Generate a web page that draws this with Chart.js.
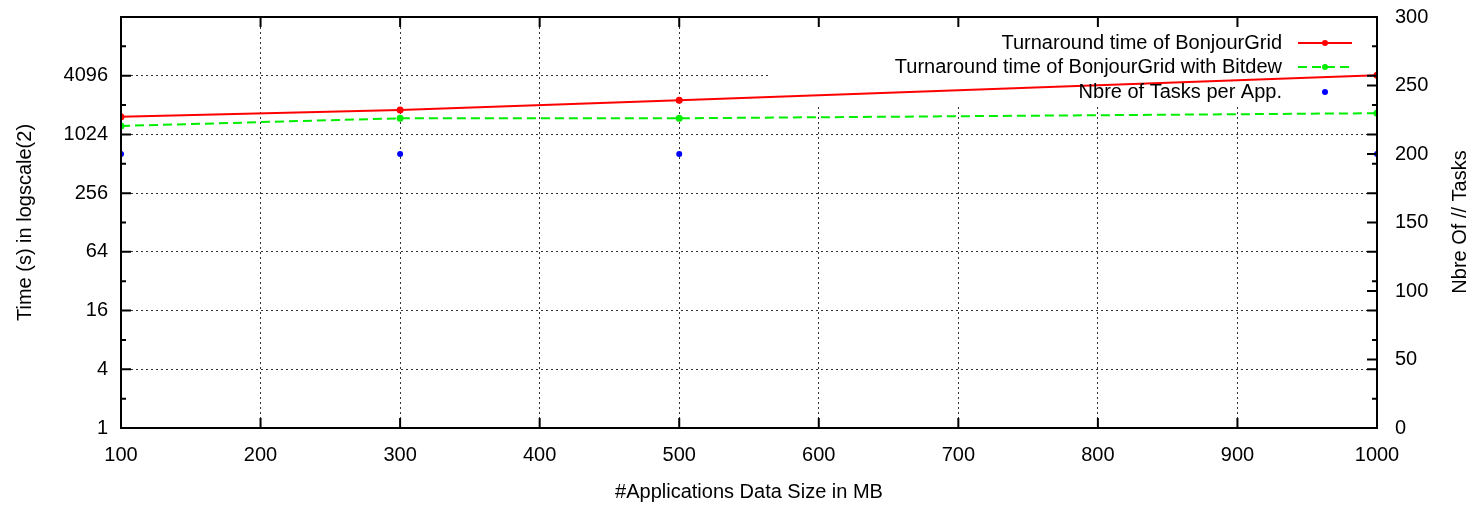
<!DOCTYPE html>
<html>
<head>
<meta charset="utf-8">
<script src="https://cdn.jsdelivr.net/npm/chart.js@4"></script>
<style>
  html, body { margin: 0; padding: 0; background: #fff; }
  #wrap { width: 1473px; height: 507px; }
</style>
</head>
<body>
<div id="wrap"><canvas id="lineChart"></canvas></div>
<script>
// data
const dataSizes = [100, 300, 500, 1000];
const bonjourGrid = [1550, 1820, 2300, 4150];
const bonjourGridBitdew = [1250, 1500, 1500, 1690];
const tasksPerApp = [200, 200, 200, 200];

const xTicks = [100, 200, 300, 400, 500, 600, 700, 800, 900, 1000];
const timeTicks = [1, 2, 4, 8, 16, 32, 64, 128, 256, 512, 1024, 2048, 4096, 8192, 16384];
const timeLabels = [1, 4, 16, 64, 256, 1024, 4096];
const taskTicks = [0, 50, 100, 150, 200, 250, 300];

const FONT = "'Liberation Sans', Arial, sans-serif";
Chart.defaults.font.family = FONT;
Chart.defaults.font.size = 20;
Chart.defaults.color = "#000";

const toPoints = (ys) => dataSizes.map((x, i) => ({ x, y: ys[i] }));
const gridColor = "#333";

// legend box + frame + inward tick marks, like gnuplot
const gnuplotLook = {
  id: "gnuplotLook",
  beforeDatasetsDraw(chart) {
    const { ctx, chartArea } = chart;
    // the key area hides the grid behind it
    ctx.save();
    ctx.fillStyle = "#fff";
    ctx.fillRect(769, chartArea.top + 1, chartArea.right - 769 - 1, 104 - chartArea.top);
    ctx.restore();
  },
  afterDatasetsDraw(chart) {
    const { ctx, chartArea: a, scales } = chart;
    ctx.save();
    ctx.strokeStyle = "#000";
    ctx.lineWidth = 2;
    ctx.setLineDash([]);
    ctx.strokeRect(a.left, a.top, a.right - a.left, a.bottom - a.top);

    ctx.beginPath();
    xTicks.forEach((v) => {
      const px = scales.x.getPixelForValue(v);
      ctx.moveTo(px, a.bottom); ctx.lineTo(px, a.bottom - 10);
      ctx.moveTo(px, a.top); ctx.lineTo(px, a.top + 10);
    });
    timeTicks.forEach((v) => {
      const py = scales.y.getPixelForValue(v);
      const len = timeLabels.includes(v) ? 10 : 5;
      ctx.moveTo(a.left, py); ctx.lineTo(a.left + len, py);
      ctx.moveTo(a.right, py); ctx.lineTo(a.right - len, py);
    });
    taskTicks.forEach((v) => {
      const py = scales.y2.getPixelForValue(v);
      ctx.moveTo(a.right, py); ctx.lineTo(a.right - 10, py);
    });
    ctx.stroke();

    // key
    const rows = [43, 67, 92];
    ctx.font = "20px " + FONT;
    ctx.textAlign = "right";
    ctx.textBaseline = "middle";
    ctx.fillStyle = "#000";
    chart.data.datasets.forEach((ds, i) => {
      const y = rows[i];
      ctx.fillText(ds.label, 1282, y);
      if (ds.showLine !== false) {
        ctx.strokeStyle = ds.borderColor;
        ctx.lineWidth = 2;
        ctx.setLineDash(ds.borderDash || []);
        ctx.beginPath();
        ctx.moveTo(1298, y);
        ctx.lineTo(1352, y);
        ctx.stroke();
        ctx.setLineDash([]);
      }
      ctx.fillStyle = ds.pointBackgroundColor;
      ctx.beginPath();
      ctx.arc(1325, y, 3, 0, Math.PI * 2);
      ctx.fill();
      ctx.fillStyle = "#000";
    });

    // right axis title, reading bottom to top
    ctx.translate(1460, 222);
    ctx.rotate(-Math.PI / 2);
    ctx.textAlign = "center";
    ctx.fillText("Nbre Of // Tasks", 0, 0);
    ctx.restore();
  },
};

const noVerticalPadding = (scale, width) => {
  scale.width = width;
  scale.paddingTop = 0;
  scale.paddingBottom = 0;
};

const container = document.getElementById("lineChart");

new Chart(container, {
  type: "line",
  data: {
    datasets: [
      {
        label: "Turnaround time of BonjourGrid",
        data: toPoints(bonjourGrid),
        yAxisID: "y",
        borderColor: "#ff0000",
        backgroundColor: "#ff0000",
        pointBackgroundColor: "#ff0000",
        pointBorderWidth: 0,
        pointRadius: 3.5,
        borderWidth: 2,
        tension: 0,
      },
      {
        label: "Turnaround time of BonjourGrid with Bitdew",
        data: toPoints(bonjourGridBitdew),
        yAxisID: "y",
        borderColor: "#00ee00",
        backgroundColor: "#00ee00",
        pointBackgroundColor: "#00ee00",
        pointBorderWidth: 0,
        pointRadius: 3.5,
        borderWidth: 2,
        borderDash: [9, 5],
        tension: 0,
      },
      {
        label: "Nbre of Tasks per App.",
        data: toPoints(tasksPerApp),
        yAxisID: "y2",
        showLine: false,
        borderColor: "#0000ff",
        backgroundColor: "#0000ff",
        pointBackgroundColor: "#0000ff",
        pointBorderWidth: 0,
        pointRadius: 3,
      },
    ],
  },
  options: {
    responsive: true,
    maintainAspectRatio: false,
    animation: false,
    events: [],
    layout: { padding: { top: 17, left: 0, right: 0, bottom: 0 } },
    plugins: {
      legend: { display: false },
      tooltip: { enabled: false },
    },
    scales: {
      x: {
        type: "linear",
        position: "bottom",
        min: 100,
        max: 1000,
        afterBuildTicks: (scale) => {
          scale.ticks = xTicks.map((value) => ({ value }));
        },
        ticks: { padding: 15, maxRotation: 0, autoSkip: false, callback: (v) => String(v) },
        grid: {
          drawTicks: false,
          color: (c) => (c.tick && c.tick.value > 100 && c.tick.value < 1000 ? gridColor : "transparent"),
          lineWidth: 1,
        },
        border: { display: false, dash: [2, 3] },
        title: {
          display: true,
          text: "#Applications Data Size in MB",
          padding: { top: 0, bottom: 3 },
          font: { size: 20 },
        },
        afterFit: (scale) => {
          scale.height = 79;
          scale.paddingLeft = 0;
          scale.paddingRight = 0;
        },
      },
      y: {
        type: "logarithmic",
        position: "left",
        min: 1,
        max: 16384,
        afterBuildTicks: (scale) => {
          scale.ticks = timeTicks.map((value) => ({ value }));
        },
        ticks: {
          padding: 13,
          autoSkip: false,
          callback: (v) => (timeLabels.includes(v) ? String(v) : ""),
        },
        grid: {
          drawTicks: false,
          color: (c) => (c.tick && c.tick.value > 1 && timeLabels.includes(c.tick.value) ? gridColor : "transparent"),
          lineWidth: 1,
        },
        border: { display: false, dash: [2, 3] },
        title: {
          display: true,
          text: "Time (s) in logscale(2)",
          padding: { top: 13, bottom: 0 },
          font: { size: 20 },
        },
        afterFit: (scale) => noVerticalPadding(scale, 121),
      },
      y2: {
        type: "linear",
        position: "right",
        min: 0,
        max: 300,
        afterBuildTicks: (scale) => {
          scale.ticks = taskTicks.map((value) => ({ value }));
        },
        ticks: { padding: 18, autoSkip: false },
        grid: { drawOnChartArea: false, drawTicks: false },
        border: { display: false },
        afterFit: (scale) => noVerticalPadding(scale, 96),
      },
    },
  },
  plugins: [gnuplotLook],
});
</script>
</body>
</html>
